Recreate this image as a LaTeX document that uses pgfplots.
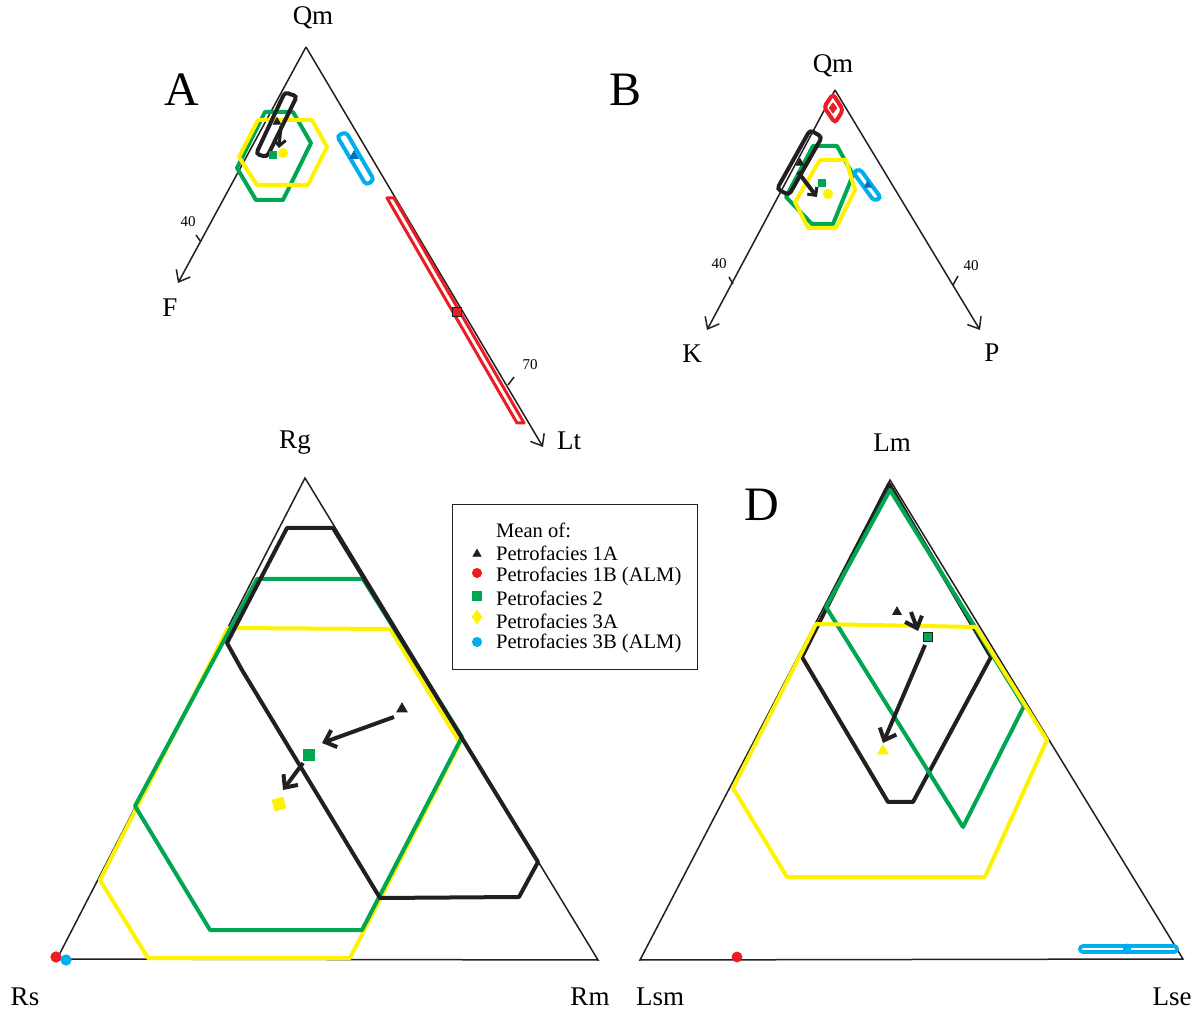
\documentclass[border=0pt]{standalone}
\usepackage{pgfplots}
\pgfplotsset{compat=1.18}
\usepackage{fontspec}
\setmainfont{Liberation Serif}
\usetikzlibrary{arrows.meta}
\definecolor{cred}{RGB}{237,28,36}
\definecolor{cgreen}{RGB}{0,166,81}
\definecolor{cyellow}{RGB}{255,242,0}
\definecolor{cblue}{RGB}{0,174,239}
\definecolor{cdblue}{RGB}{0,114,188}
\definecolor{cblack}{RGB}{35,31,32}
\newcommand{\fs}[1]{\fontsize{#1}{#1}\selectfont}
\begin{document}
\begin{tikzpicture}
\begin{axis}[scale only axis, width=600.5pt, height=505pt,
  xmin=0, xmax=1201, ymin=0, ymax=1010, y dir=reverse,
  hide axis, clip=false,
  tri/.style={line width=0.75pt, color=cblack, mark=none},
  tarrow/.style={tri, -{Straight Barb[length=5pt,width=8pt,line width=0.75pt]}},
  poly/.style={line width=2pt, line join=round, mark=none},
  rpoly/.style={line width=2pt, rounded corners=1.8pt, mark=none},
  marr/.style={line width=2pt, color=cblack, mark=none, -{Straight Barb[length=5pt,width=9pt,line width=2pt]}},
  marrA/.style={line width=1.5pt, color=cblack, mark=none, -{Straight Barb[length=3pt,width=6pt,line width=1.5pt]}},
  mk/.style={only marks, mark options={solid}},
  every node/.append style={inner sep=0pt},
]
% ================= Panel A =================
\addplot[tarrow] coordinates {(306,47) (178,283)};
\addplot[tarrow] coordinates {(306,47) (543,447)};
\addplot[tri] coordinates {(201,242) (196,235)};
\addplot[tri] coordinates {(508,385) (514,377)};
\addplot[poly, cred, line width=1.5pt] coordinates {(387,198) (394,198) (524,423) (517,423)} -- cycle;
\addplot[rpoly, cblue] coordinates {(341.5,134) (346,132) (374,180) (366,185) (337,136) (341.5,134)};
\addplot[poly, cgreen] coordinates {(265,112) (293,112) (311,143) (283,200) (256,200) (237,168)} -- cycle;
\addplot[poly, cyellow] coordinates {(258,120) (312,120) (327,147) (308,185) (257,185) (239,157)} -- cycle;
\addplot[rpoly, cblack] coordinates {(291,94.5) (297,96) (267,157) (256,154) (285,92) (291,94.5)};
\addplot[marrA] coordinates {(281,126) (279,148)};
\addplot[mk, mark=triangle*, mark size=2.2pt, color=cblack] coordinates {(277,122)};
\addplot[mk, mark=square*, mark size=1.8pt, color=cgreen] coordinates {(273,155)};
\addplot[mk, mark=*, mark size=2.3pt, color=cyellow] coordinates {(283,153)};
\addplot[mk, mark=triangle*, mark size=2.5pt, color=cdblue] coordinates {(354,156)};
\addplot[mk, mark=square*, mark size=2.2pt, draw=cblack, fill=cred] coordinates {(457,312)};
\node[font=\fs{13.5}] at (axis cs:313,18) {Qm};
\node[font=\fs{24}] at (axis cs:182,90) {A};
\node[font=\fs{13.5}] at (axis cs:170,308) {F};
\node[font=\fs{13.5}] at (axis cs:569,441) {Lt};
\node[font=\fs{7.5}] at (axis cs:188,222) {40};
\node[font=\fs{7.5}] at (axis cs:530,365) {70};
% ================= Panel B =================
\addplot[tarrow] coordinates {(835,90) (707,330)};
\addplot[tarrow] coordinates {(835,90) (980,330)};
\addplot[tri] coordinates {(733,284) (729,277)};
\addplot[tri] coordinates {(953,285) (958,276)};
\addplot[rpoly, cred] coordinates {(838,102) (843,110) (835,123) (824,107) (833,94) (838,102)};
\addplot[poly, cgreen] coordinates {(813,146) (837,146) (853,175) (833,224) (812,224) (786,197)} -- cycle;
\addplot[poly, cyellow] coordinates {(820,160) (846,160) (855,190) (836,228) (808,228) (795,202)} -- cycle;
\addplot[rpoly, cblue] coordinates {(856.5,170.5) (860,169) (881,198) (874,201) (853,172) (856.5,170.5)};
\addplot[rpoly, cblack] coordinates {(816,133.5) (822,137) (789,195) (777,189) (810,130) (816,133.5)};
\addplot[marrA, line width=2pt] coordinates {(798,172) (817,197)};
\addplot[mk, mark=triangle*, mark size=2.2pt, color=cblack] coordinates {(800,163)};
\addplot[mk, mark=square*, mark size=1.6pt, color=cgreen] coordinates {(822,183)};
\addplot[mk, mark=*, mark size=2.3pt, color=cyellow] coordinates {(828,194)};
\addplot[mk, mark=diamond*, mark size=2.5pt, color=cred] coordinates {(833,108)};
\addplot[mk, mark=triangle*, mark size=2.2pt, color=cdblue] coordinates {(868,185)};
\node[font=\fs{13.5}] at (axis cs:833,66) {Qm};
\node[font=\fs{24}] at (axis cs:626,90) {B};
\node[font=\fs{13.5}] at (axis cs:692,354) {K};
\node[font=\fs{13.5}] at (axis cs:992,353) {P};
\node[font=\fs{7.5}] at (axis cs:719,264) {40};
\node[font=\fs{7.5}] at (axis cs:971,266) {40};
% ================= Panel C =================
\addplot[tri] coordinates {(305,478) (598,960) (57,959)} -- cycle;
\addplot[poly, cyellow] coordinates {(228,628) (390,629) (460,743) (350,958) (148,958) (100,880)} -- cycle;
\addplot[poly, cgreen] coordinates {(257,579) (363,579) (462,737) (362,930) (210,930) (135,806)} -- cycle;
\addplot[poly, cblack] coordinates {(287,528) (333,528) (538,862) (519,897) (380,898) (242,670) (227,643)} -- cycle;
\addplot[marr] coordinates {(394,717) (322,743)};
\addplot[marr] coordinates {(303,763) (283,790)};
\addplot[mk, mark=triangle*, mark size=3pt, color=cblack] coordinates {(402,709)};
\addplot[mk, mark=square*, mark size=2.8pt, color=cgreen] coordinates {(309,755)};
\addplot[mk, mark=square*, mark size=2.8pt, color=cyellow, mark options={rotate=15}] coordinates {(279,804)};
\addplot[mk, mark=*, mark size=2.6pt, color=cred] coordinates {(56,957)};
\addplot[mk, mark=*, mark size=2.6pt, color=cblue] coordinates {(66,960)};
\node[font=\fs{13.5}] at (axis cs:295,443) {Rg};
\node[font=\fs{13.5}] at (axis cs:25,997) {Rs};
\node[font=\fs{13.5}] at (axis cs:590,997) {Rm};
% ================= Legend =================
\draw[line width=0.5pt, color=cblack, fill=white] (axis cs:452,505) rectangle (axis cs:697,670);
\addplot[mk, mark=triangle*, mark size=2.3pt, color=cblack] coordinates {(477,554)};
\addplot[mk, mark=*, mark size=2.3pt, color=cred] coordinates {(477,573)};
\addplot[mk, mark=square*, mark size=2.2pt, color=cgreen] coordinates {(477,596)};
\addplot[mk, mark=diamond*, mark size=3.3pt, color=cyellow] coordinates {(477,617)};
\addplot[mk, mark=*, mark size=2.3pt, color=cblue] coordinates {(477,642)};
\node[font=\fs{10.3}, anchor=west] at (axis cs:489,530) {Mean of:};
\node[font=\fs{10.3}, anchor=west] at (axis cs:489,553) {Petrofacies 1A};
\node[font=\fs{10.3}, anchor=west] at (axis cs:489,576) {Petrofacies 1B (ALM)};
\node[font=\fs{10.3}, anchor=west] at (axis cs:489,598) {Petrofacies 2};
\node[font=\fs{10.3}, anchor=west] at (axis cs:489,621) {Petrofacies 3A};
\node[font=\fs{10.3}, anchor=west] at (axis cs:489,643) {Petrofacies 3B (ALM)};
% ================= Panel D =================
\addplot[tri] coordinates {(890,480) (1183,959) (640,960)} -- cycle;
\addplot[poly, cblack] coordinates {(889,484) (991,657) (913,802) (888,802) (802,657)} -- cycle;
\addplot[poly, cgreen] coordinates {(890,490) (1024,706) (963,827) (826,607)} -- cycle;
\addplot[poly, cyellow] coordinates {(816,624) (976,627) (1047,740) (985,877) (787,877) (733,788)} -- cycle;
\addplot[rpoly, cblue, line width=1.8pt, rounded corners=1.4pt] coordinates {(1128,946) (1177,946) (1177,952) (1080,952) (1080,946) (1128,946)};
\addplot[marr] coordinates {(911,612) (918,631)};
\addplot[marr] coordinates {(925,645) (883,743)};
\addplot[mk, mark=triangle*, mark size=2.5pt, color=cblack] coordinates {(897,612)};
\addplot[mk, mark=square*, mark size=2.2pt, draw=cblack, fill=cgreen] coordinates {(928,637)};
\addplot[mk, mark=triangle*, mark size=3pt, color=cyellow] coordinates {(883,751)};
\addplot[mk, mark=*, mark size=2.5pt, color=cred] coordinates {(737,957)};
\addplot[mk, mark=diamond*, mark size=2.5pt, color=cblue] coordinates {(1127,949)};
\node[font=\fs{13.5}] at (axis cs:892,443) {Lm};
\node[font=\fs{13.5}] at (axis cs:660,997) {Lsm};
\node[font=\fs{13.5}] at (axis cs:1172,997) {Lse};
\node[font=\fs{24}] at (axis cs:762,505) {D};
\end{axis}
\pgfresetboundingbox
\path (current axis.south west) rectangle (current axis.north east);
\end{tikzpicture}
\end{document}
